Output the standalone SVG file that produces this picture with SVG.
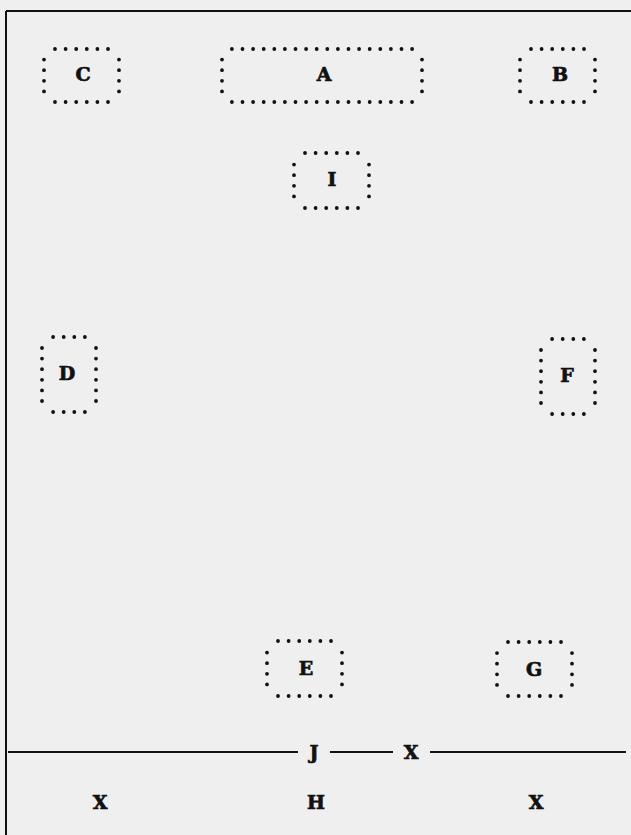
<svg xmlns="http://www.w3.org/2000/svg" width="631" height="835" viewBox="0 0 631 835">
<style>
.bg{fill:#efefef}
.rule{stroke:#111;stroke-width:2;fill:none}
.dots{stroke:#111;stroke-width:3.8;stroke-linecap:round;stroke-dasharray:0 10.6;fill:none}
.lbl{font-family:"DejaVu Serif","Liberation Serif",serif;font-weight:bold;font-size:19px;fill:#111;stroke:#111;stroke-width:0.7;text-anchor:middle}
</style>
<rect class="bg" x="0" y="0" width="631" height="835"/>
<g id="frame">
<line class="rule" x1="6" y1="11" x2="631" y2="11"/>
<line class="rule" x1="6" y1="11" x2="6" y2="835"/>
</g>
<g id="C">
<line class="dots" x1="55" y1="49" x2="108.1" y2="49"/>
<line class="dots" x1="55" y1="102" x2="108.1" y2="102"/>
<line class="dots" x1="44" y1="59.6" x2="44" y2="91.5"/>
<line class="dots" x1="119" y1="59.6" x2="119" y2="91.5"/>
<text class="lbl" x="83" y="81">C</text>
</g>
<g id="A">
<line class="dots" x1="231.9" y1="49" x2="412.2" y2="49"/>
<line class="dots" x1="231.9" y1="102" x2="412.2" y2="102"/>
<line class="dots" x1="222" y1="59.6" x2="222" y2="91.5"/>
<line class="dots" x1="422" y1="59.6" x2="422" y2="91.5"/>
<text class="lbl" x="324" y="81">A</text>
</g>
<g id="B">
<line class="dots" x1="531" y1="49" x2="584.1" y2="49"/>
<line class="dots" x1="531" y1="102" x2="584.1" y2="102"/>
<line class="dots" x1="520" y1="59.6" x2="520" y2="91.5"/>
<line class="dots" x1="595" y1="59.6" x2="595" y2="91.5"/>
<text class="lbl" x="560" y="81">B</text>
</g>
<g id="I">
<line class="dots" x1="305" y1="153" x2="358.1" y2="153"/>
<line class="dots" x1="305" y1="208" x2="358.1" y2="208"/>
<line class="dots" x1="294" y1="164.6" x2="294" y2="196.5"/>
<line class="dots" x1="369" y1="164.6" x2="369" y2="196.5"/>
<text class="lbl" x="332" y="186">I</text>
</g>
<g id="D">
<line class="dots" x1="53.1" y1="337" x2="85" y2="337"/>
<line class="dots" x1="53.1" y1="412" x2="85" y2="412"/>
<line class="dots" x1="42" y1="348" x2="42" y2="401.1"/>
<line class="dots" x1="96" y1="348" x2="96" y2="401.1"/>
<text class="lbl" x="67" y="380">D</text>
</g>
<g id="F">
<line class="dots" x1="552.1" y1="339" x2="584" y2="339"/>
<line class="dots" x1="552.1" y1="414" x2="584" y2="414"/>
<line class="dots" x1="541" y1="350" x2="541" y2="403.1"/>
<line class="dots" x1="595" y1="350" x2="595" y2="403.1"/>
<text class="lbl" x="567" y="382">F</text>
</g>
<g id="E">
<line class="dots" x1="278" y1="641" x2="331.1" y2="641"/>
<line class="dots" x1="278" y1="696" x2="331.1" y2="696"/>
<line class="dots" x1="267" y1="652.6" x2="267" y2="684.5"/>
<line class="dots" x1="342" y1="652.6" x2="342" y2="684.5"/>
<text class="lbl" x="306" y="675">E</text>
</g>
<g id="G">
<line class="dots" x1="508" y1="642" x2="561.1" y2="642"/>
<line class="dots" x1="508" y1="696" x2="561.1" y2="696"/>
<line class="dots" x1="497" y1="653.1" x2="497" y2="685"/>
<line class="dots" x1="572" y1="653.1" x2="572" y2="685"/>
<text class="lbl" x="534" y="676">G</text>
</g>
<g id="connectors">
<line class="rule" x1="8" y1="752" x2="298" y2="752"/>
<line class="rule" x1="330" y1="752" x2="393" y2="752"/>
<line class="rule" x1="430" y1="752" x2="626" y2="752"/>
</g>
<g id="J"><text class="lbl" x="314" y="759">J</text></g>
<g id="X1"><text class="lbl" x="411" y="759">X</text></g>
<g id="X2"><text class="lbl" x="100" y="809">X</text></g>
<g id="H"><text class="lbl" x="316" y="809">H</text></g>
<g id="X3"><text class="lbl" x="536" y="809">X</text></g>
</svg>
